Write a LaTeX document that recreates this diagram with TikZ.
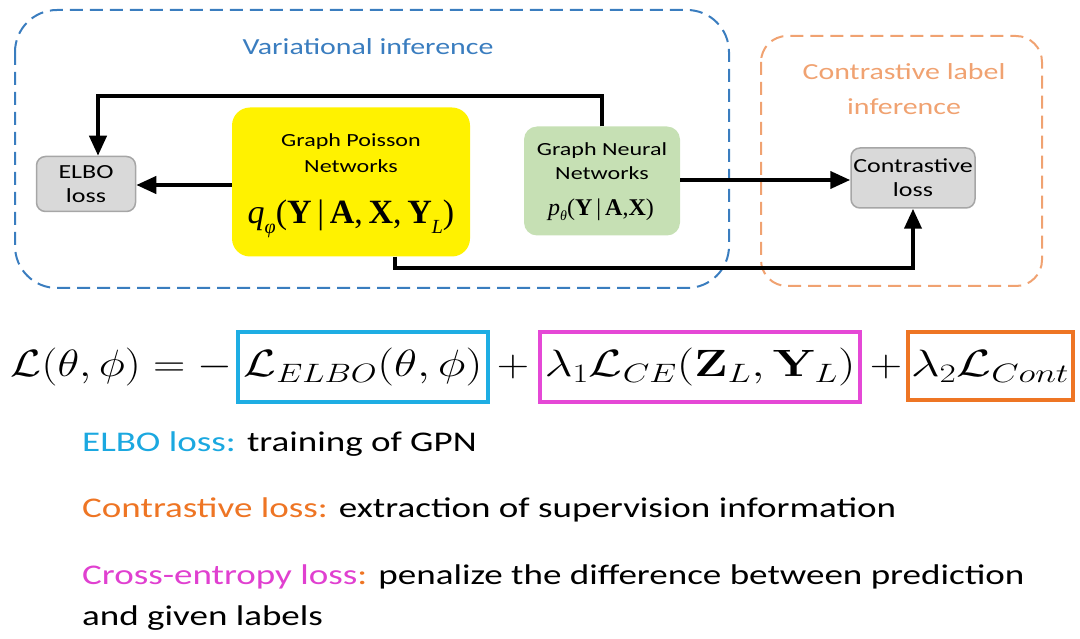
\documentclass[tikz,border=0pt]{standalone}
\usepackage{fix-cm}
\usepackage{graphicx}
\usepackage[no-math]{fontspec}
\setmainfont{Carlito}
\newfontfamily\tms{Liberation Serif}
\usetikzlibrary{arrows.meta,calc}
\definecolor{viblue}{HTML}{3A7DBF}
\definecolor{cliorange}{HTML}{F0A271}
\definecolor{nodegray}{HTML}{D9D9D9}
\definecolor{nodeedge}{HTML}{A6A6A6}
\definecolor{gnngreen}{HTML}{C6E0B4}
\definecolor{eqblue}{HTML}{1EADE3}
\definecolor{eqmag}{HTML}{E548D6}
\definecolor{eqorange}{HTML}{EE7524}
\definecolor{txtcyan}{HTML}{1BA8E0}
\definecolor{txtorange}{HTML}{EE7524}
\definecolor{txtmag}{HTML}{E040D0}
\newcommand{\eqsize}{\fontsize{38}{42}\selectfont}
\newcommand{\wide}[1]{\scalebox{1.3}[1]{#1}}
\newcommand{\sx}[2]{\scalebox{#1}[1]{#2}}
\tikzset{
  grouping/.style={rounded corners=#1, line width=2pt, dash pattern=on 13pt off 7pt},
  lossbox/.style={draw=nodeedge, fill=nodegray, line width=1.5pt, rounded corners=9pt, align=center, inner sep=0pt, font=\fontsize{20}{24}\selectfont},
  arr/.style={line width=4pt, -{Triangle[length=20pt,width=17pt]}},
  eqbox/.style={draw=#1, line width=4pt, minimum height=70pt, inner sep=0pt},
  bodytext/.style={anchor=base west, inner sep=0pt, font=\fontsize{28.5}{34}\selectfont}
}
\begin{document}
\begin{tikzpicture}[x=1pt, y=-1pt]
\useasboundingbox (0,0) rectangle (1080,639);
% group boxes
\draw[grouping=42pt, draw=viblue] (15,10) rectangle (729,288);
\draw[grouping=26pt, draw=cliorange] (761,36) rectangle (1042,286);
\node[text=viblue, font=\fontsize{23}{28}\selectfont] (vilabel) at (368,47) {\wide{Variational inference}};
\node[text=cliorange, font=\fontsize{23}{35}\selectfont, align=center] (clilabel) at (904,89) {\wide{Contrastive label}\\\wide{inference}};
% nodes
\node[lossbox, minimum width=99pt, minimum height=55pt] (elbo) at (86,184) {\wide{ELBO}\\\wide{loss}};
\node[fill=yellow, rounded corners=18pt, minimum width=238pt, minimum height=149pt] (gpn) at (351,182) {};
\node[font=\fontsize{18.5}{26}\selectfont, align=center] (gpntext) at (351,153) {\wide{Graph Poisson}\\\wide{Networks}};
\node[font=\tms\fontsize{34}{36}\selectfont, inner sep=0pt] (gpnformula) at (351,219) {\textit{q}\raisebox{-0.28em}{\fontsize{20}{20}\selectfont\textit{φ}}(\textbf{Y}\,|\,\textbf{A},\,\textbf{X},\,\textbf{Y}\raisebox{-0.28em}{\fontsize{20}{20}\selectfont\textit{L}})};
\node[fill=gnngreen, rounded corners=13pt, minimum width=156pt, minimum height=109pt] (gnn) at (602,181) {};
\node[font=\fontsize{18.5}{24}\selectfont, align=center] (gnntext) at (602,161) {\wide{Graph Neural}\\\wide{Networks}};
\node[font=\tms\fontsize{24}{26}\selectfont, inner sep=0pt] (gnnformula) at (601,210) {\textit{p}\raisebox{-0.22em}{\fontsize{14}{14}\selectfont\textit{θ}}(\textbf{Y}\,|\,\textbf{A},\textbf{X})};
\node[lossbox, minimum width=124pt, minimum height=60pt] (cont) at (913,178) {\wide{Contrastive}\\\wide{loss}};
% connectors
\draw[arr] (gnn.north) -- (gnn.north |- 0,96) -| ([xshift=12pt]elbo.north);
\draw[arr] (gpn.west |- 0,185) -- (elbo.east |- 0,185);
\draw[arr] (gnn.east |- 0,180) -- (cont.west |- 0,180);
\draw[arr] ([xshift=44pt]gpn.south) |- (cont.south |- 0,268) -- (cont.south);
% equation
\node[anchor=east, inner sep=0pt, font=\eqsize] (lhs) at (233,367) {\sx{1.18}{$\mathcal{L}(\theta,\phi)=-$}};
\node[eqbox=eqblue, minimum width=250pt, font=\eqsize] (b1) at (363,367) {\sx{1.25}{$\mathcal{L}_{ELBO}(\theta,\phi)$}};
\node[font=\eqsize, inner sep=0pt] (plus1) at (513,367) {\sx{1.18}{$+$}};
\node[eqbox=eqmag, minimum width=320pt, font=\eqsize] (b2) at (700,367) {\sx{1.29}{$\lambda_1\mathcal{L}_{CE}(\mathbf{Z}_L,\mathbf{Y}_L)$}};
\node[font=\eqsize, inner sep=0pt] (plus2) at (886,367) {\sx{1.18}{$+$}};
\node[eqbox=eqorange, minimum width=165pt, minimum height=68pt, font=\eqsize] (b3) at (990,366) {\sx{1.33}{$\lambda_2\mathcal{L}_{Cont}$}};
% explanations
\node[bodytext] (t1) at (82,451) {\wide{\textcolor{txtcyan}{ELBO loss:} training of GPN}};
\node[bodytext] (t2) at (82,517) {\wide{\textcolor{txtorange}{Contrastive loss:} extraction of supervision information}};
\node[bodytext] (t3) at (82,584) {\wide{\textcolor{txtmag}{Cross-entropy loss}\textcolor{txtorange}{:} penalize the difference between prediction}};
\node[bodytext] (t4) at (82,625) {\wide{and given labels}};
\end{tikzpicture}
\end{document}
